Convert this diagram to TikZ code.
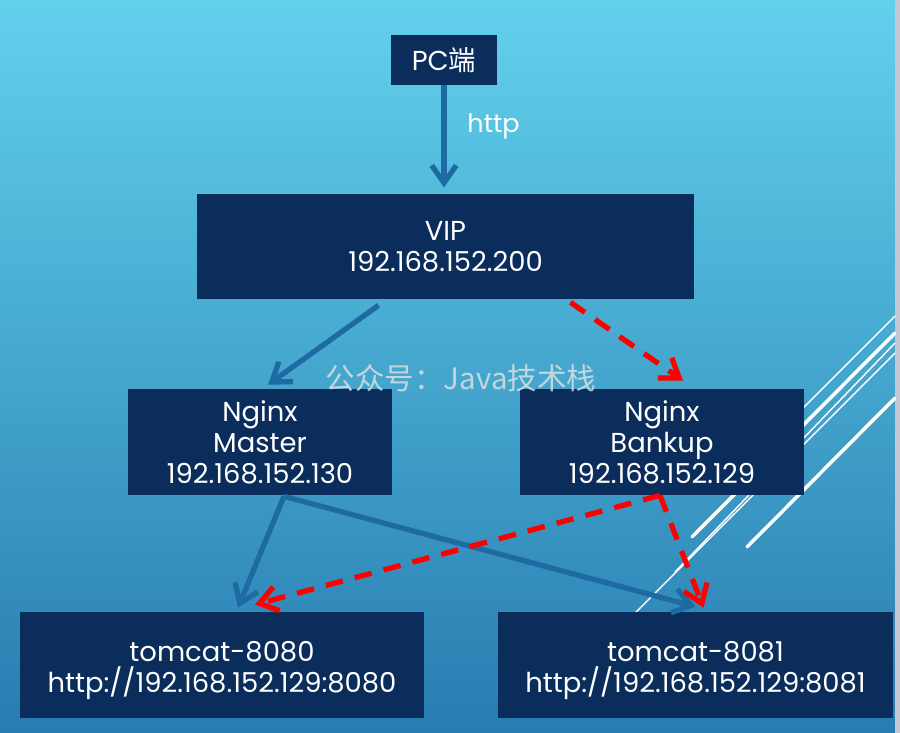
\documentclass[tikz,border=0pt]{standalone}
\usepackage{fontspec}
\setmainfont{Poppins}
\newfontfamily\cjk{Noto Sans CJK SC}
\usetikzlibrary{arrows.meta,calc}
\definecolor{navy}{RGB}{10,45,92}
\definecolor{linkblue}{RGB}{30,106,163}
\definecolor{skytop}{RGB}{98,209,236}
\definecolor{skybot}{RGB}{40,124,176}
\definecolor{edgegray}{RGB}{196,200,210}

\begin{document}
\begin{tikzpicture}[x=0.02cm,y=-0.02cm,
	box/.style={fill=navy,text=white,align=center,inner sep=0pt,font=\fontsize{15.6}{17.7}\selectfont},
	link/.style={draw=linkblue,line width=3pt,-{Straight Barb[length=10pt,width=14pt]}},
	backup/.style={draw=red,line width=3pt,dash pattern=on 10pt off 7pt,-{Straight Barb[length=10pt,width=14pt]}},
	deco/.style={draw=white,line width=0.8pt},
	decothick/.style={draw=white,line width=2pt,line cap=round}]
		\useasboundingbox (0,0) rectangle (900,733);
		\shade[top color=skytop,bottom color=skybot] (0,0) rectangle (895,733);
		\fill[edgegray] (895,0) rectangle (900,733);
		
		\draw[deco] (895,316) -- (790,421);
		\draw[decothick] (895,333) -- (692,537);
		\draw[deco] (895,343) -- (675,572);
		\draw[deco] (895,353) -- (600,648);
		\draw[decothick] (895,398) -- (747,547);
		
		\node[box,minimum width=2.12cm,minimum height=1cm] (pc) at (444,60) {PC{\cjk 端}};
		\node[box,minimum width=9.94cm,minimum height=2.1cm] (vip) at (445.5,246.5) {VIP\\192.168.152.200};
		\node[box,minimum width=5.28cm,minimum height=2.12cm] (master) at (260,442) {Nginx\\Master\\192.168.152.130};
		\node[box,minimum width=5.68cm,minimum height=2.12cm] (bankup) at (662,442) {Nginx\\Bankup\\192.168.152.129};
		\node[box,minimum width=8.08cm,minimum height=2.12cm] (tc0) at (222,665) {\rule{0pt}{18pt}tomcat-8080\\http://192.168.152.129:8080};
		\node[box,minimum width=7.9cm,minimum height=2.12cm] (tc1) at (695.5,665) {\rule{0pt}{18pt}tomcat-8081\\http://192.168.152.129:8081};
		
		\draw[link,shorten >=3.5pt] (pc) -- node[pos=0.38,right=0.3cm,text=white,font=\fontsize{14.5}{16}\selectfont] (proto) {http} (pc |- vip.north);
		\draw[link] ($(vip.south)+(-67,6)$) -- ($(master.north)+(8,-4)$);
		\draw[link] ($(master.south)+(24,1)$) -- ($(tc0.north)+(16,-4)$);
		\draw[link] ($(master.south)+(24,1)$) -- ($(tc1.north)+(0,-5)$);
		\draw[backup] ($(vip.south)+(125,3)$) -- ($(bankup.north)+(21,-8)$);
		\draw[backup] ($(bankup.south)+(-2,0)$) -- ($(tc0.north)+(33,-7)$);
		\draw[backup] ($(bankup.south)+(-2,0)$) -- ($(tc1.north)+(8,-4)$);
		
		\node[text=white!78!gray,opacity=0.8,font=\cjk\fontsize{16.8}{17}\selectfont] (mark) at (461,378) {公众号：Java技术栈};
	\end{tikzpicture}
\end{document}
